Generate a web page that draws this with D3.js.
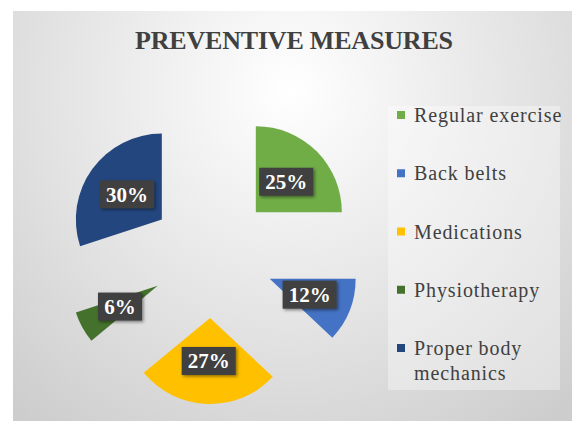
<!DOCTYPE html>
<meta charset="utf-8">
<script src="https://d3js.org/d3.v7.min.js"></script>
<style>
  body { margin: 0; background: #fff; }
</style>
<div id="my_dataviz"></div>
<script>
// chart data
const categories = ["Regular exercise", "Back belts", "Medications", "Physiotherapy", "Proper body mechanics"];
const percents = [25, 12, 27, 6, 30];
const colors = ["#70AD47", "#4472C4", "#FFC000", "#44722C", "#23467F"];

const width = 572, height = 421;
const serif = "'Liberation Serif', 'Times New Roman', serif";

const svg = d3.select("#my_dataviz")
  .append("svg")
  .attr("width", width)
  .attr("height", height);

const defs = svg.append("defs");

// chart area background: soft radial gradient, white at top centre
const bg = defs.append("radialGradient")
  .attr("id", "bg")
  .attr("gradientUnits", "userSpaceOnUse")
  .attr("cx", 290).attr("cy", 90).attr("r", 420);
bg.append("stop").attr("offset", "0%").attr("stop-color", "#ffffff");
bg.append("stop").attr("offset", "55%").attr("stop-color", "#e4e4e4");
bg.append("stop").attr("offset", "100%").attr("stop-color", "#cdcdcd");

const shadow = defs.append("filter").attr("id", "shadow")
  .attr("x", "-30%").attr("y", "-30%").attr("width", "160%").attr("height", "160%");
shadow.append("feDropShadow")
  .attr("dx", 1.5).attr("dy", 1.5).attr("stdDeviation", 1.5)
  .attr("flood-color", "#000").attr("flood-opacity", 0.45);

svg.append("rect")
  .attr("x", 13).attr("y", 11)
  .attr("width", width - 13).attr("height", height - 11)
  .attr("fill", "url(#bg)");

// title
svg.append("text")
  .attr("x", 294).attr("y", 49)
  .attr("text-anchor", "middle")
  .attr("textLength", 318)
  .attr("lengthAdjust", "spacing")
  .style("font-family", serif)
  .style("font-weight", "bold")
  .style("font-size", "26px")
  .style("fill", "#404040")
  .text("PREVENTIVE MEASURES");

// exploded pie
const cx = 212, cy = 256, radius = 86, explode = 62;

const pie = d3.pie().sort(null).value(d => d);
const arc = d3.arc().innerRadius(0).outerRadius(radius);
const arcs = pie(percents);

const pieG = svg.append("g").attr("transform", `translate(${cx},${cy})`);

const slices = pieG.selectAll("g.slice")
  .data(arcs)
  .join("g")
  .attr("class", "slice")
  .attr("transform", d => {
    const mid = (d.startAngle + d.endAngle) / 2;
    return `translate(${explode * Math.sin(mid)},${-explode * Math.cos(mid)})`;
  });

slices.append("path")
  .attr("d", arc)
  .attr("fill", (d, i) => colors[i]);

// data labels: dark boxes with white text
const labels = slices.append("g")
  .attr("transform", d => `translate(${arc.centroid(d)})`);

labels.append("rect")
  .attr("width", d => d.data < 10 ? 44 : 54)
  .attr("x", d => d.data < 10 ? -22 : -27)
  .attr("y", -14)
  .attr("height", 28)
  .attr("fill", "#3f3f3f")
  .attr("filter", "url(#shadow)");

labels.append("text")
  .attr("text-anchor", "middle")
  .attr("dy", "0.35em")
  .style("font-family", serif)
  .style("font-weight", "bold")
  .style("font-size", "21px")
  .style("fill", "#ffffff")
  .text(d => d.data + "%");

// legend
svg.append("rect")
  .attr("x", 388).attr("y", 106)
  .attr("width", 172).attr("height", 284)
  .attr("fill", "#ffffff").attr("opacity", 0.35);

const legendY = d3.scalePoint()
  .domain(categories)
  .range([122, 355]);

const legend = svg.append("g").selectAll("g")
  .data(categories)
  .join("g")
  .attr("transform", d => `translate(397,${legendY(d)})`);

legend.append("rect")
  .attr("x", 0).attr("y", -11)
  .attr("width", 8).attr("height", 8)
  .attr("fill", (d, i) => colors[i]);

legend.append("text")
  .style("font-family", serif)
  .style("font-size", "20px")
  .style("letter-spacing", "0.9px")
  .style("fill", "#404040")
  .each(function(d) {
    const t = d3.select(this);
    if (d === "Proper body mechanics") {
      t.append("tspan").attr("x", 17).attr("y", 0).text("Proper body");
      t.append("tspan").attr("x", 17).attr("y", 25).text("mechanics");
    } else {
      t.attr("x", 17).text(d);
    }
  });
</script>
